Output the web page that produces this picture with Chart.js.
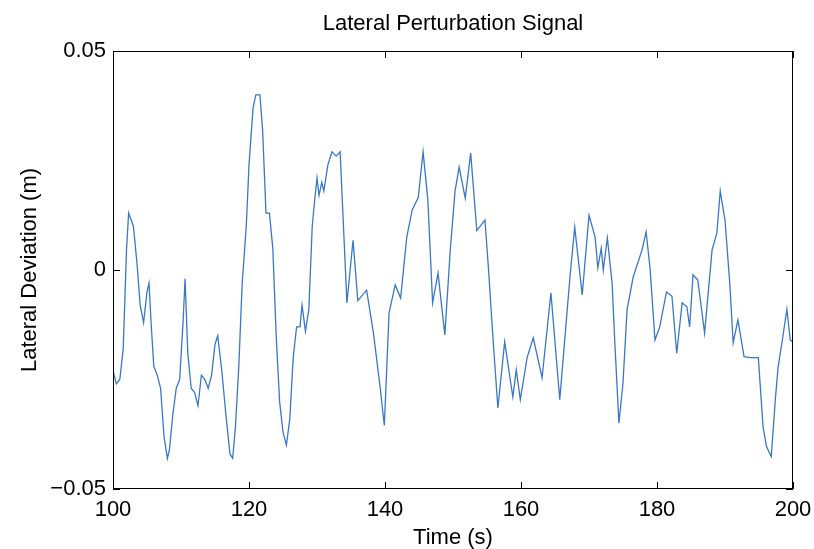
<!DOCTYPE html>
<html><head><meta charset="utf-8">
<script src="https://cdn.jsdelivr.net/npm/chart.js@4/dist/chart.umd.min.js"></script>
<style>html,body{margin:0;padding:0;background:#fff}#w{width:814px;height:549px}</style>
</head><body><div id="w"><canvas id="c"></canvas></div>
<script>
const times = [100,100.5,101,101.5,102,102.3,103,103.5,104,104.5,105,105.3,105.6,106,106.5,107,107.5,108,108.3,108.8,109.3,109.8,110.3,110.6,111,111.5,112,112.5,113,113.5,114,114.5,115,115.4,116,116.6,117.2,117.6,118,118.5,119,119.6,120,120.6,121,121.6,122,122.5,123,123.5,124,124.5,125,125.5,126,126.5,127,127.5,127.8,128.3,128.8,129.3,129.6,130,130.3,130.7,131,131.6,132.2,132.8,133.4,134.4,135.3,136,137.3,138.3,139.3,139.9,140.6,141.5,142.3,143.2,144,144.9,145.6,146.3,147,147.8,148.8,149.6,150.3,150.9,151.8,152.6,153.5,154.7,155.2,155.9,156.6,157.6,158.8,159.3,159.9,160.9,161.8,163.1,164.4,165.7,167.2,167.9,169,170,170.9,171.3,171.8,172.1,172.7,173.4,173.8,174.4,175,175.6,176.5,177.8,178.4,179,179.7,180.4,181.4,182.2,182.9,183.7,184.4,184.8,185.3,186,187,188.1,188.8,189.3,190,190.7,191.2,191.9,192.8,193.7,194.9,195.6,196.1,196.8,197.4,197.8,198.5,199.1,199.6,200];
const deviation = [-0.023,-0.026,-0.025,-0.018,0.005,0.013,0.010,0.002,-0.008,-0.012,-0.005,-0.003,-0.012,-0.022,-0.024,-0.027,-0.038,-0.043,-0.041,-0.033,-0.027,-0.025,-0.012,-0.002,-0.019,-0.027,-0.028,-0.031,-0.024,-0.025,-0.027,-0.024,-0.017,-0.015,-0.023,-0.033,-0.042,-0.043,-0.036,-0.022,-0.003,0.010,0.024,0.037,0.040,0.040,0.032,0.013,0.013,0.005,-0.015,-0.030,-0.037,-0.040,-0.034,-0.020,-0.013,-0.013,-0.008,-0.014,-0.009,0.010,0.015,0.021,0.017,0.020,0.018,0.024,0.027,0.026,0.027,-0.0075,0.0068,-0.007,-0.0046,-0.0144,-0.027,-0.0355,-0.0098,-0.0034,-0.0064,0.0075,0.0137,0.0166,0.027,0.016,-0.0075,-0.0007,-0.0148,0.0046,0.018,0.0235,0.0164,0.0267,0.009,0.0114,0.0007,-0.016,-0.0315,-0.0164,-0.029,-0.0228,-0.0296,-0.020,-0.0155,-0.0246,-0.0052,-0.0296,-0.0016,0.0098,-0.0057,0.0125,0.0075,0.0005,0.005,0,0.0073,-0.003,-0.0166,-0.035,-0.0258,-0.009,-0.0016,0.0046,0.0087,0,-0.016,-0.013,-0.005,-0.006,-0.019,-0.0075,-0.0084,-0.013,-0.0011,-0.0023,-0.0144,0.0046,0.0084,0.018,0.0114,-0.003,-0.0166,-0.0114,-0.0198,-0.020,-0.020,-0.0358,-0.0403,-0.0426,-0.0296,-0.0223,-0.0153,-0.009,-0.016,-0.0164];
const xTicks = [100,120,140,160,180,200];
const yTicks = [-0.05,0,0.05];
const FONT = '"Liberation Sans", Arial, sans-serif';

const deco = {
  id:'deco',
  afterDraw(ch){
    const {ctx, chartArea:a, scales:{x,y}} = ch;
    ctx.save();
    ctx.strokeStyle='#000'; ctx.lineWidth=1;
    ctx.strokeRect(a.left+0.5,a.top+0.5,a.right-a.left-1,a.bottom-a.top-1);
    ctx.beginPath();
    xTicks.forEach(t=>{const p=Math.round(x.getPixelForValue(t))+0.5;ctx.moveTo(p,a.bottom);ctx.lineTo(p,a.bottom-7);ctx.moveTo(p,a.top);ctx.lineTo(p,a.top+7);});
    yTicks.forEach(t=>{const p=Math.round(y.getPixelForValue(t))+0.5;ctx.moveTo(a.left,p);ctx.lineTo(a.left+7,p);ctx.moveTo(a.right,p);ctx.lineTo(a.right-7,p);});
    ctx.stroke();
    ctx.fillStyle='#000';
    ctx.font='22px '+FONT; ctx.textAlign='center'; ctx.textBaseline='middle';
    ctx.fillText('Lateral Perturbation Signal',(a.left+a.right)/2,24);
    ctx.fillText('Time (s)',(a.left+a.right)/2,538);
    ctx.translate(30,(a.top+a.bottom)/2); ctx.rotate(-Math.PI/2);
    ctx.fillText('Lateral Deviation (m)',0,0);
    ctx.restore();
  }
};

new Chart(document.getElementById('c'),{
  type:'line',
  data:{datasets:[{data:times.map((t,i)=>({x:t,y:deviation[i]})),borderColor:'#3a78c4',borderWidth:1.3,pointRadius:0,tension:0}]},
  options:{
    responsive:true,maintainAspectRatio:false,animation:false,
    layout:{padding:{top:51,right:21,left:0,bottom:0}},
    plugins:{legend:{display:false},tooltip:{enabled:false}},
    scales:{
      x:{type:'linear',min:100,max:200,
        afterBuildTicks:s=>{s.ticks=xTicks.map(v=>({value:v}));},
        afterFit:s=>{s.height=60;s.paddingLeft=0;s.paddingRight=0;},
        grid:{display:false,drawTicks:false},border:{display:false},
        ticks:{color:'#000',font:{family:FONT,size:22},padding:8,maxRotation:0}},
      y:{type:'linear',min:-0.05,max:0.05,
        afterBuildTicks:s=>{s.ticks=yTicks.map(v=>({value:v}));},
        afterFit:s=>{s.width=113;s.paddingTop=0;s.paddingBottom=0;},
        grid:{display:false,drawTicks:false},border:{display:false},
        ticks:{color:'#000',font:{family:FONT,size:22},padding:7,
          callback:v=>v===0?'0':(v<0?'\u2212'+Math.abs(v).toFixed(2):v.toFixed(2))}}
    }
  },
  plugins:[deco]
});
</script></body></html>
